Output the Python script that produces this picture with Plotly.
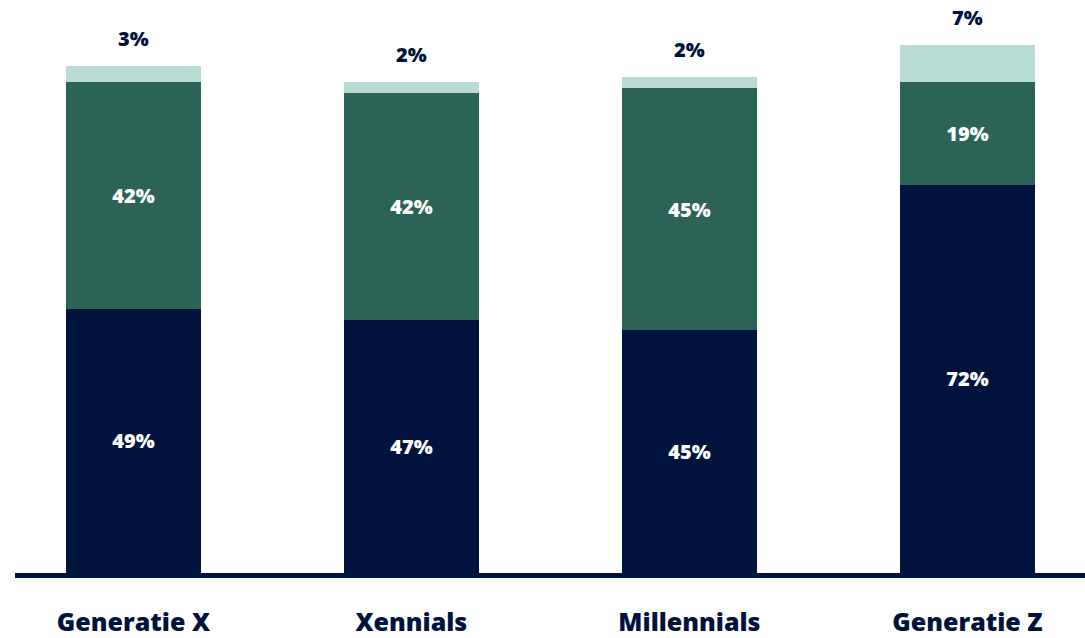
import plotly.graph_objects as go

# Survey shares per generation (percent)
generations = ["Generatie X", "Xennials", "Millennials", "Generatie Z"]
share_low = [49, 47, 45, 72]
share_mid = [42, 42, 45, 19]
share_top = [3, 2, 2, 7]

NAVY = "#00133C"
GREEN = "#2B6356"
MINT = "#B8DBD3"
FONT = "Open Sans"

x_pos = list(range(len(generations)))
bar_w = 0.486

fig = go.Figure()


def add_series(values, color, show_text):
    fig.add_trace(go.Bar(
        x=x_pos,
        y=values,
        width=bar_w,
        marker=dict(color=color, line=dict(width=0)),
        text=[f"{v}%" for v in values] if show_text else None,
        textposition="inside" if show_text else "none",
        insidetextanchor="middle",
        textfont=dict(family=FONT, size=20, color="white", weight=800),
        hoverinfo="skip",
        showlegend=False,
    ))


add_series(share_low, NAVY, True)
add_series(share_mid, GREEN, True)
add_series(share_top, MINT, False)

# Labels for the thin top segment sit above each stack
for xi, a, b, c in zip(x_pos, share_low, share_mid, share_top):
    fig.add_annotation(
        x=xi, y=a + b + c, text=f"{c}%",
        showarrow=False, yanchor="bottom", yshift=12,
        font=dict(family=FONT, size=20, color=NAVY, weight=800),
    )

fig.update_layout(
    barmode="stack",
    width=1085,
    height=638,
    margin=dict(l=15, r=0, t=0, b=65),
    paper_bgcolor="white",
    plot_bgcolor="white",
    xaxis=dict(
        range=[-0.426, 3.423],
        tickmode="array",
        tickvals=x_pos,
        ticktext=generations,
        tickfont=dict(family=FONT, size=25, color=NAVY, weight=800),
        showline=True,
        linecolor=NAVY,
        linewidth=5,
        ticks="",
        ticklabelstandoff=23,
        automargin=False,
        showgrid=False,
        zeroline=False,
        fixedrange=True,
    ),
    yaxis=dict(
        range=[0, 106.3],
        visible=False,
        showgrid=False,
        zeroline=False,
        fixedrange=True,
    ),
)

fig.write_html("out.html")
